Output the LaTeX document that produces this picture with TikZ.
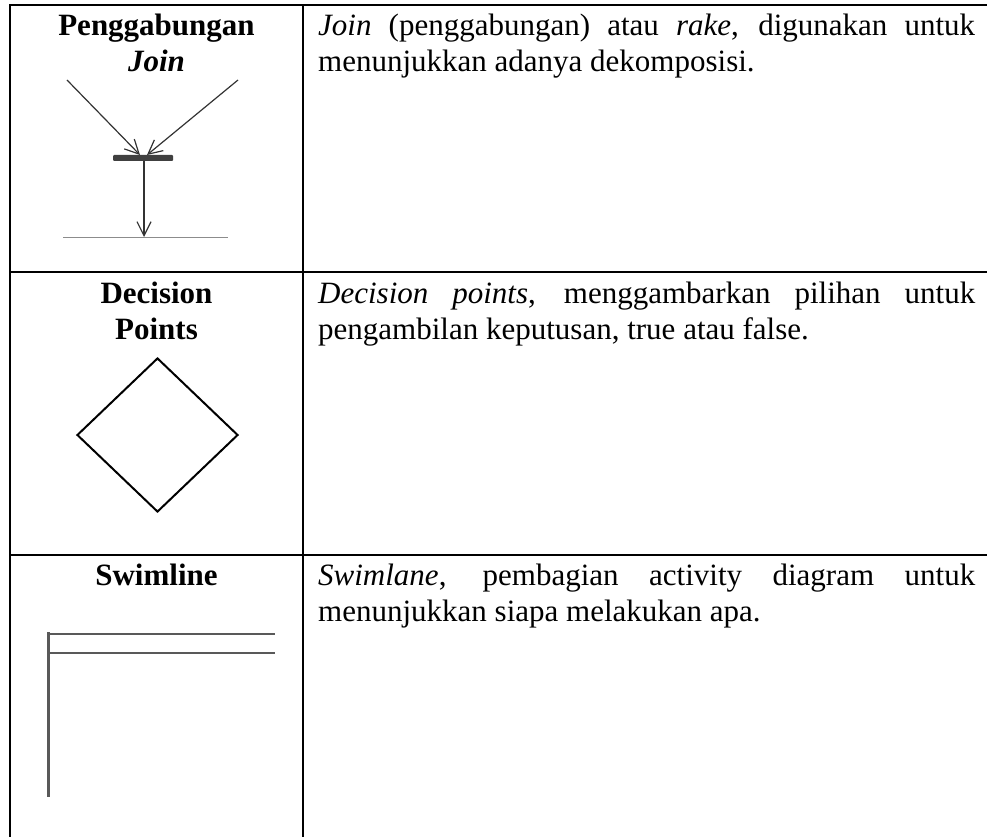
\documentclass[tikz,border=0pt]{standalone}
\usepackage{fontspec}
\setmainfont{Liberation Serif}
\usetikzlibrary{positioning,arrows.meta,shapes.geometric}
\setlength{\parindent}{0pt}
\hyphenpenalty=10000
\exhyphenpenalty=10000
\tolerance=9999

\begin{document}
\begin{tikzpicture}[
    x=1pt, y=-1pt,
    grid/.style={line width=2.5pt, draw=black},
    title/.style={anchor=north, inner sep=0pt, align=center,
                  font=\fontsize{31}{36}\selectfont\bfseries},
    desc/.style={anchor=north west, inner sep=0pt, text width=657pt, align=justify,
                 font=\fontsize{31}{36}\selectfont},
    arrow/.style={-{Straight Barb[length=14pt,width=14pt]}, line width=1.2pt, draw=black!80},
    lane/.style={draw=black!65, line width=#1},
    lane/.default=2pt,
  ]

  \useasboundingbox (0,0) rectangle (987,837);

  % Table grid
  \draw[grid] (10,840) -- (10,5) -- (990,5);
  \draw[grid] (303,5) -- (303,840);
  \draw[grid] (10,272) -- (990,272);
  \draw[grid] (10,555) -- (990,555);

  % Row 1: join
  \node[title] (joinT) at (156.5,10) {\rule{0pt}{25pt}Penggabungan\\\textit{Join}};
  \node[desc] (joinD) at (318,10) {\rule{0pt}{25pt}\textit{Join} (penggabungan) atau \textit{rake}, digunakan untuk menunjukkan adanya dekomposisi.};

  \node[fill=black!75, minimum width=60pt, minimum height=6pt, inner sep=0pt,
        rounded corners=1pt] (bar) at (143,158) {};
  \coordinate (joinL) at (67,80);
  \coordinate (joinR) at (238,80);
  \coordinate (tipL) at (140,155);
  \coordinate (tipR) at (147,155);
  \coordinate (joinOut) at (144,237);
  \draw[arrow] (joinL) -- (tipL);
  \draw[arrow] (joinR) -- (tipR);
  \draw[arrow] (bar.south -| joinOut) -- (joinOut);
  \draw[black!45, line width=1pt] (63,237) -- (228,237);

  % Row 2: decision
  \node[title] (decT) at (156.5,278) {\rule{0pt}{25pt}Decision\\Points};
  \node[desc] (decD) at (318,278) {\rule{0pt}{25pt}\textit{Decision points}, menggambarkan pilihan untuk pengambilan keputusan, true atau false.};
  \node[diamond, draw, line width=2pt, minimum width=161pt, minimum height=154pt,
        inner sep=0pt] (dec) at (157.5,435) {};

  % Row 3: swimlane
  \node[title] (laneT) at (156.5,560) {\rule{0pt}{25pt}Swimline};
  \node[desc] (laneD) at (318,560) {\rule{0pt}{25pt}\textit{Swimlane}, pembagian activity diagram untuk menunjukkan siapa melakukan apa.};
  \draw[lane=3pt] (48,632) -- (48,797);
  \draw[lane] (47,634) -- (275,634);
  \draw[lane] (48,653) -- (275,653);

\end{tikzpicture}
\end{document}
